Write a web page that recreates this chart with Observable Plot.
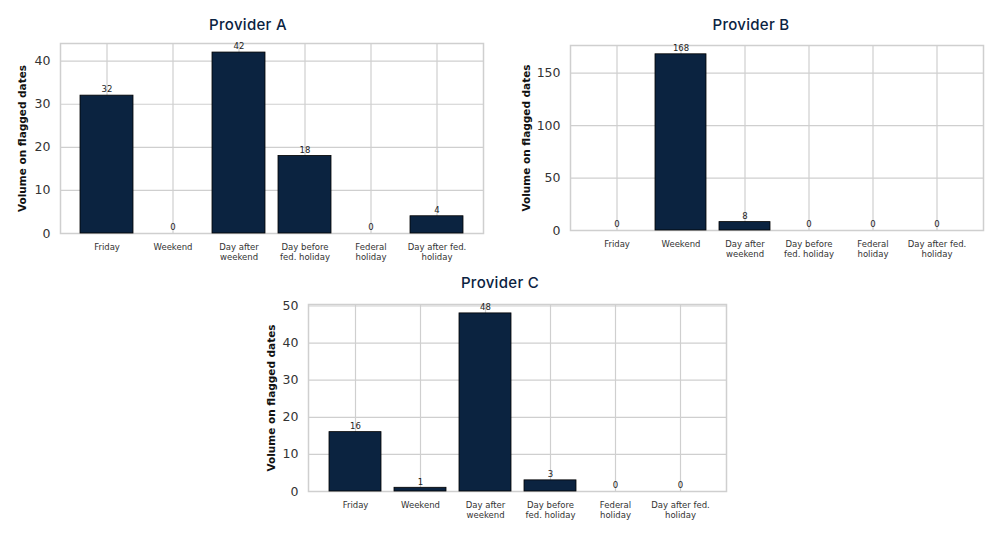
<!DOCTYPE html>
<html>
<head>
<meta charset="utf-8">
<script src="https://cdn.jsdelivr.net/npm/d3@7"></script>
<script src="https://cdn.jsdelivr.net/npm/@observablehq/plot@0.6"></script>
<style>
  html, body { margin: 0; padding: 0; background: #fff; }
  #page { position: relative; width: 1000px; height: 542px; overflow: hidden; }
  .panel { position: absolute; }
  .title {
    position: absolute; text-align: center; width: 200px;
    font-family: Inter, "Open Sans", sans-serif; font-weight: 500; font-size: 15px;
    letter-spacing: 0.3px; color: #0b2341; white-space: nowrap;
  }
  svg { overflow: visible; }
</style>
</head>
<body>
<div id="page"></div>
<script>
// Flag categories shown along each x axis
const categories = ["Friday", "Weekend", "Day after weekend", "Day before fed. holiday", "Federal holiday", "Day after fed. holiday"];
// Two-line tick labels for the categories
const tickLabels = ["Friday", "Weekend", "Day after\nweekend", "Day before\nfed. holiday", "Federal\nholiday", "Day after fed.\nholiday"];

// Volume on flagged dates, per provider
const providerA = [32, 0, 42, 18, 0, 4];
const providerB = [0, 168, 8, 0, 0, 0];
const providerC = [16, 1, 48, 3, 0, 0];

const yTicksA = [0, 10, 20, 30, 40];
const yTicksB = [0, 50, 100, 150];
const yTicksC = [0, 10, 20, 30, 40, 50];

const navy = "#0b2340";
const page = document.getElementById("page");

function panel({name, values, yTicks, left, top, width, height, margins, labelOffset, titleX, titleY}) {
  const rows = categories.map((c, i) => ({category: c, value: values[i]}));
  const ymax = d3.max(values) * 1.05;
  const chart = Plot.plot({
    width, height,
    marginLeft: margins[0], marginRight: margins[1], marginTop: margins[2], marginBottom: margins[3],
    style: {fontFamily: "DejaVu Sans, sans-serif", background: "transparent"},
    x: {domain: categories, paddingInner: 0.2, paddingOuter: 0.29, label: null},
    y: {domain: [0, ymax], label: null},
    marks: [
      Plot.gridX(categories, {stroke: "#cfcfcf", strokeOpacity: 1, strokeWidth: 1.2}),
      Plot.gridY(yTicks, {stroke: "#cfcfcf", strokeOpacity: 1, strokeWidth: 1.2}),
      Plot.frame({stroke: "#cfcfcf", strokeWidth: 1.5}),
      Plot.barY(rows, Plot.filter(d => d.value > 0, {x: "category", y: "value", fill: navy, stroke: "#000", strokeWidth: 0.8})),
      Plot.text(rows, {x: "category", y: "value", text: d => String(d.value), dy: -6, fontSize: 8.5, fill: "#222"}),
      Plot.axisY(yTicks, {tickSize: 0, tickPadding: 10, fontSize: 12.5, color: "#333",
        label: "Volume on flagged dates", labelAnchor: "center", labelOffset, labelArrow: "none"}),
      Plot.axisX(categories, {tickSize: 0, tickPadding: 10, fontSize: 8.5, color: "#333", lineHeight: 1.15,
        tickFormat: (d) => tickLabels[categories.indexOf(d)], label: null})
    ]
  });
  chart.classList.add("panel");
  chart.style.left = left + "px";
  chart.style.top = top + "px";
  // bold y-axis title
  chart.querySelectorAll("[aria-label='y-axis label'] text, [aria-label='y-axis label']").forEach(el => {
    el.setAttribute("font-weight", "bold");
    el.setAttribute("font-size", "10.5");
    el.setAttribute("fill", "#111");
  });
  page.appendChild(chart);

  const t = document.createElement("div");
  t.className = "title";
  t.textContent = name;
  t.style.left = (titleX - 100) + "px";
  t.style.top = titleY + "px";
  page.appendChild(t);
}

panel({name: "Provider A", values: providerA, yTicks: yTicksA, left: 0, top: 35, width: 500, height: 230,
  margins: [60, 17, 8, 32], labelOffset: 42, titleX: 248, titleY: 15});
panel({name: "Provider B", values: providerB, yTicks: yTicksB, left: 500, top: 35, width: 500, height: 230,
  margins: [70, 17, 10, 35], labelOffset: 48, titleX: 751, titleY: 15});
panel({name: "Provider C", values: providerC, yTicks: yTicksC, left: 250, top: 295, width: 500, height: 247,
  margins: [58, 24, 9, 51], labelOffset: 41, titleX: 500, titleY: 273});
</script>
</body>
</html>
